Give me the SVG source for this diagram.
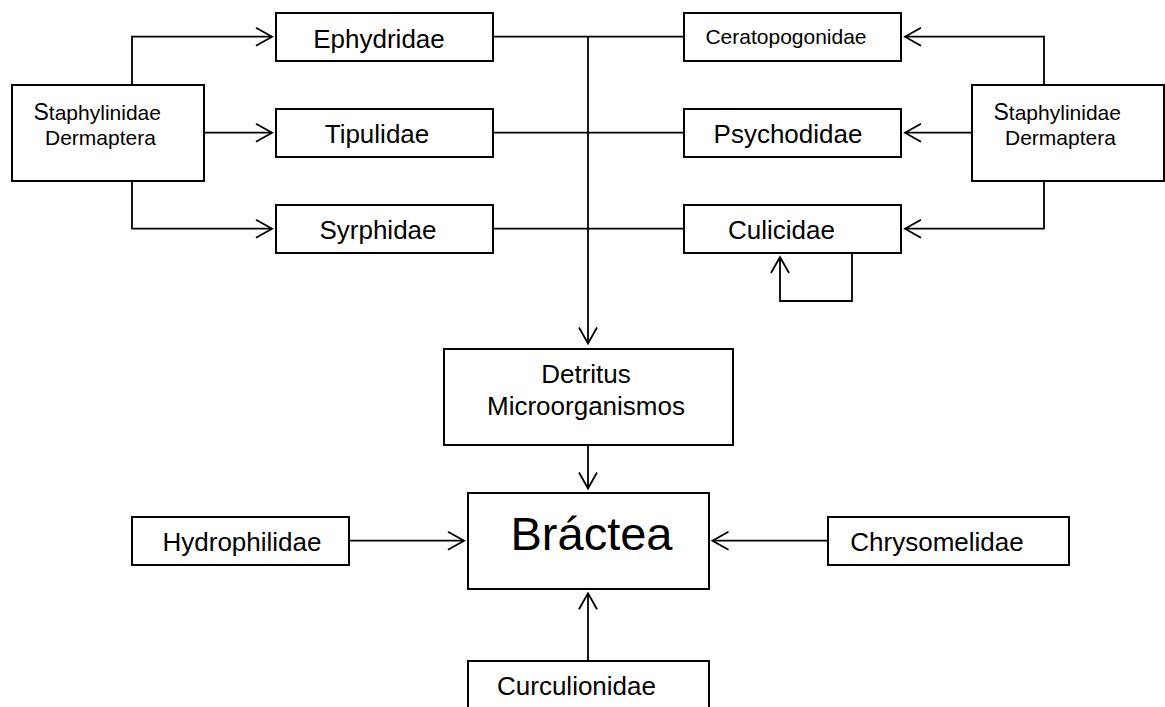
<svg xmlns="http://www.w3.org/2000/svg" width="1165" height="707" viewBox="0 0 1165 707">
<style>
.box{fill:#fff;stroke:#000;stroke-width:2}
.ln{fill:none;stroke:#000;stroke-width:1.8}
.arr{marker-end:url(#ah)}
text{font-family:"Liberation Sans",Arial,sans-serif;fill:#000}
.t{font-size:26px;text-anchor:middle}
.s{font-size:21px;text-anchor:middle}
.b{font-size:47px;text-anchor:middle}
.st{font-size:21px}
</style>
<defs>
<marker id="ah" markerUnits="userSpaceOnUse" markerWidth="20" markerHeight="20" refX="16" refY="9" orient="auto" overflow="visible">
<path d="M0,0 L16,9 L0,18" fill="none" stroke="#000" stroke-width="1.8"/>
</marker>
</defs>
<rect width="1165" height="707" fill="#fff"/>
<g id="connectors">
<path class="ln arr" d="M132,85 V36.7 H272"/>
<path class="ln arr" d="M204,132.7 H272"/>
<path class="ln arr" d="M132,181 V228.7 H272"/>
<path class="ln arr" d="M1044,85 V36.7 H905"/>
<path class="ln arr" d="M972,132.7 H905"/>
<path class="ln arr" d="M1044,181 V228.7 H905"/>
<path class="ln" d="M493,36.7 H684"/>
<path class="ln" d="M493,132.7 H684"/>
<path class="ln" d="M493,228.7 H684"/>
<path class="ln arr" d="M588,36.7 V343.5"/>
<path class="ln arr" d="M852,253 V301 H780 V257"/>
<path class="ln arr" d="M588,445 V488.5"/>
<path class="ln arr" d="M349,540.7 H464"/>
<path class="ln arr" d="M828,540.7 H712.5"/>
<path class="ln arr" d="M588,661 V593.3"/>
</g>
<g id="staph-left"><rect class="box" x="12" y="85" width="192" height="96"/>
<text class="st" x="33.5" y="119.5"><tspan font-size="23">S</tspan>taphylinidae</text>
<text class="st" x="45" y="145">Dermaptera</text></g>
<g id="staph-right"><rect class="box" x="972" y="85" width="192" height="96"/>
<text class="st" x="993.5" y="119.5"><tspan font-size="23">S</tspan>taphylinidae</text>
<text class="st" x="1005" y="145">Dermaptera</text></g>
<g id="ephydridae"><rect class="box" x="276" y="13" width="217" height="48"/><text class="t" x="379" y="47.5">Ephydridae</text></g>
<g id="tipulidae"><rect class="box" x="276" y="109" width="217" height="48"/><text class="t" x="377" y="143.3">Tipulidae</text></g>
<g id="syrphidae"><rect class="box" x="276" y="205" width="217" height="48"/><text class="t" x="378" y="239.3">Syrphidae</text></g>
<g id="ceratopogonidae"><rect class="box" x="684" y="13" width="217" height="48"/><text class="s" x="786" y="43.5">Ceratopogonidae</text></g>
<g id="psychodidae"><rect class="box" x="684" y="109" width="217" height="48"/><text class="t" x="788" y="143.3">Psychodidae</text></g>
<g id="culicidae"><rect class="box" x="684" y="205" width="217" height="48"/><text class="t" x="781.5" y="239.3">Culicidae</text></g>
<g id="detritus"><rect class="box" x="444" y="349" width="289" height="96"/>
<text class="t" x="586" y="383.3">Detritus</text><text class="t" x="586" y="415">Microorganismos</text></g>
<g id="bractea"><rect class="box" x="468" y="493" width="241" height="96"/><text class="b" x="591.5" y="549.5">Bráctea</text></g>
<g id="hydrophilidae"><rect class="box" x="132" y="517" width="217" height="48"/><text class="t" x="242" y="550.7">Hydrophilidae</text></g>
<g id="chrysomelidae"><rect class="box" x="828" y="517" width="241" height="48"/><text class="t" x="937" y="551">Chrysomelidae</text></g>
<g id="curculionidae"><rect class="box" x="468" y="661" width="241" height="60"/><text class="t" x="576.5" y="695">Curculionidae</text></g>
</svg>
